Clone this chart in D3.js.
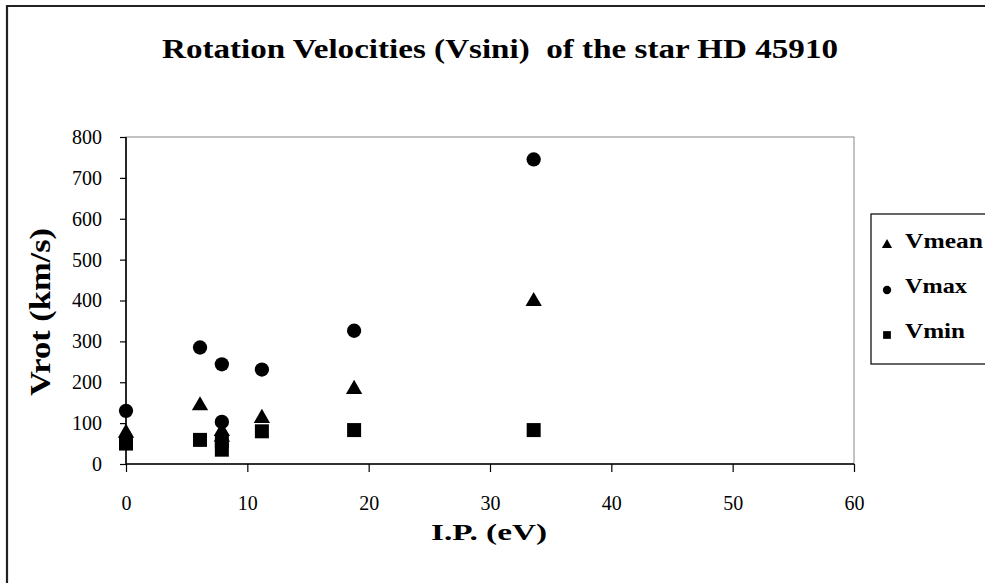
<!DOCTYPE html>
<html><head><meta charset="utf-8">
<script src="https://cdn.jsdelivr.net/npm/d3@7"></script>
<style>html,body{margin:0;padding:0;background:#fff;overflow:hidden}</style>
</head><body>
<svg id="chart" width="985" height="583"></svg>
<script>
const titleText = "Rotation Velocities (Vsini)  of the star HD 45910";
const xTitle = "I.P. (eV)";
const yTitle = "Vrot (km/s)";
const xTicks = [0, 10, 20, 30, 40, 50, 60];
const yTicks = [0, 100, 200, 300, 400, 500, 600, 700, 800];
const seriesNames = ["Vmean", "Vmax", "Vmin"];
const ipVmean = [0, 6.1, 7.9, 7.9, 11.2, 18.8, 33.6];
const vmean   = [76, 143, 80, 66, 112, 183, 398];
const ipVmax  = [0, 6.1, 7.9, 7.9, 11.2, 18.8, 33.6];
const vmax    = [130, 285, 244, 103, 231, 326, 745];
const ipVmin  = [0, 6.1, 7.9, 7.9, 11.2, 18.8, 33.6];
const vmin    = [50, 59, 55, 35, 80, 83, 83];

const svg = d3.select("#chart");
const L = 126, R = 854, T = 137, B = 464;
const x = d3.scaleLinear().domain([0, 60]).range([L, R]);
const y = d3.scaleLinear().domain([0, 800]).range([B, T]);
const serif = "'Liberation Serif', 'Times New Roman', serif";

// outer chart border (only top and left visible)
svg.append("path").attr("d", "M7,583 V6 H985").attr("fill", "none")
  .attr("stroke", "#222").attr("stroke-width", 2.2);

// plot area border
svg.append("rect").attr("x", L).attr("y", T).attr("width", R - L).attr("height", B - T)
  .attr("fill", "none").attr("stroke", "#888").attr("stroke-width", 1);

// title
svg.append("text").attr("x", 500).attr("y", 58).attr("text-anchor", "middle")
  .attr("font-family", serif).attr("font-weight", "bold").attr("font-size", 27)
  .attr("textLength", 676).attr("lengthAdjust", "spacingAndGlyphs")
  .style("white-space", "pre")
  .text(titleText);

// axes
const xAxis = d3.axisBottom(x).tickValues(xTicks).tickSize(8).tickPadding(24).tickFormat(d3.format("d"));
const gx = svg.append("g").attr("transform", `translate(0,${B})`).call(xAxis);
const yAxis = d3.axisLeft(y).tickValues(yTicks).tickSize(6).tickPadding(18).tickFormat(d3.format("d"));
const gy = svg.append("g").attr("transform", `translate(${L},0)`).call(yAxis);
[gx, gy].forEach(g => {
  g.select(".domain").attr("stroke", "#000").attr("stroke-width", 1.6);
  g.selectAll(".tick line").attr("stroke", "#000").attr("stroke-width", 1.2);
  g.selectAll(".tick text").attr("font-family", serif).attr("font-size", 20).attr("fill", "#000");
});
gx.select(".domain").attr("d", `M${L},0H${R}`);
gy.select(".domain").attr("d", `M0,${B}V${T}`);

// axis titles
svg.append("text").attr("x", 489).attr("y", 540).attr("text-anchor", "middle")
  .attr("font-family", serif).attr("font-weight", "bold").attr("font-size", 24)
  .attr("textLength", 116).attr("lengthAdjust", "spacingAndGlyphs")
  .text(xTitle);
svg.append("text").attr("transform", "translate(50,312) rotate(-90)").attr("text-anchor", "middle")
  .attr("font-family", serif).attr("font-weight", "bold").attr("font-size", 30)
  .attr("textLength", 168).attr("lengthAdjust", "spacingAndGlyphs")
  .text(yTitle);

// markers
const shapes = {
  Vmean: d3.symbol().type(d3.symbolTriangle).size(115),
  Vmax: d3.symbol().type(d3.symbolCircle).size(160),
  Vmin: d3.symbol().type(d3.symbolSquare).size(196)
};
const series = [
  {name: "Vmean", xs: ipVmean, ys: vmean},
  {name: "Vmax", xs: ipVmax, ys: vmax},
  {name: "Vmin", xs: ipVmin, ys: vmin}
];
series.forEach(s => {
  svg.append("g").selectAll("path").data(s.ys).join("path")
    .attr("d", shapes[s.name]())
    .attr("transform", (d, i) => `translate(${x(s.xs[i])},${y(d)})`)
    .attr("fill", "#000");
});

// legend
const lg = svg.append("g");
lg.append("rect").attr("x", 871).attr("y", 214).attr("width", 130).attr("height", 150)
  .attr("fill", "#fff").attr("stroke", "#000").attr("stroke-width", 1.2);
const legShapes = {
  Vmean: d3.symbol().type(d3.symbolTriangle).size(45),
  Vmax: d3.symbol().type(d3.symbolCircle).size(55),
  Vmin: d3.symbol().type(d3.symbolSquare).size(60)
};
const legLens = {Vmean: 78, Vmax: 62, Vmin: 60};
seriesNames.forEach((n, i) => {
  const cy = 245 + i * 45;
  lg.append("path").attr("d", legShapes[n]()).attr("transform", `translate(887,${cy})`).attr("fill", "#000");
  lg.append("text").attr("x", 905).attr("y", cy + 3).attr("font-family", serif)
    .attr("font-weight", "bold").attr("font-size", 22)
    .attr("textLength", legLens[n]).attr("lengthAdjust", "spacingAndGlyphs").text(n);
});
</script>
</body></html>
